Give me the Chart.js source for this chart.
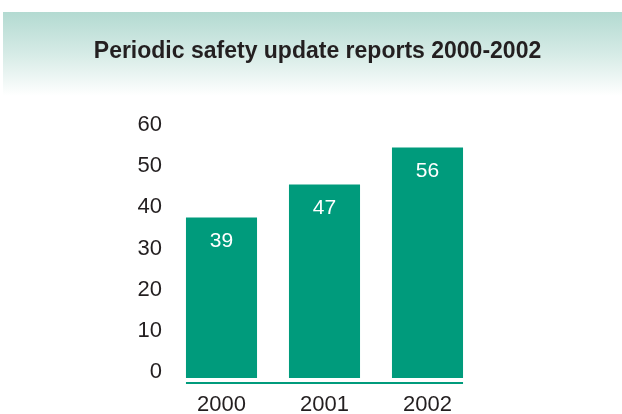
<!DOCTYPE html>
<html>
<head>
<meta charset="utf-8">
<script src="https://cdn.jsdelivr.net/npm/chart.js@4.4.0/dist/chart.umd.min.js"></script>
<style>
  html, body { margin: 0; padding: 0; background: #fff; }
  #wrap { width: 622px; height: 414px; }
</style>
</head>
<body>
<div id="wrap"><canvas id="bars" width="622" height="414"></canvas></div>
<script>
var years = ["2000", "2001", "2002"];
var reports = [39, 47, 56];
var yTicks = [0, 10, 20, 30, 40, 50, 60];
var title = "Periodic safety update reports 2000-2002";

var green = "#009b7c";
var textColor = "#231f20";
var font = "'Liberation Sans', Arial, Helvetica, sans-serif";

// teal header band with the title on it
var headerBand = {
    id: "headerBand",
    beforeDraw: function(chart) {
        var c = chart.ctx;
        var g = c.createLinearGradient(0, 12, 0, 96);
        g.addColorStop(0, "#b3dad1");
        g.addColorStop(0.5, "#d6ebe6");
        g.addColorStop(1, "#ffffff");
        c.save();
        c.fillStyle = g;
        c.fillRect(3, 12, chart.width - 3, 84);
        c.fillStyle = textColor;
        c.font = "bold 23px " + font;
        c.textAlign = "center";
        c.textBaseline = "alphabetic";
        c.fillText(title, 317.5, 58);
        c.restore();
    }
};

// baseline under the bars and the value labels inside them
var barExtras = {
    id: "barExtras",
    afterDatasetsDraw: function(chart) {
        var c = chart.ctx;
        var meta = chart.getDatasetMeta(0);
        var first = meta.data[0], last = meta.data[meta.data.length - 1];
        var y0 = chart.scales.y.getPixelForValue(0);
        c.save();
        c.strokeStyle = green;
        c.lineWidth = 2;
        c.beginPath();
        c.moveTo(first.x - first.width / 2, y0 + 5);
        c.lineTo(last.x + last.width / 2, y0 + 5);
        c.stroke();

        c.fillStyle = "#ffffff";
        c.font = "21px " + font;
        c.textAlign = "center";
        c.textBaseline = "middle";
        meta.data.forEach(function(bar, i) {
            c.fillText(String(reports[i]), bar.x, bar.y + 24);
        });
        c.restore();
    }
};

new Chart(document.getElementById("bars"), {
    type: "bar",
    data: {
        labels: years,
        datasets: [{
            data: reports,
            backgroundColor: green,
            borderWidth: 0,
            barPercentage: 0.69,
            categoryPercentage: 1
        }]
    },
    options: {
        responsive: false,
        animation: false,
        layout: { padding: { left: 0, right: 143, top: 131, bottom: 0 } },
        plugins: {
            legend: { display: false },
            tooltip: { enabled: false },
            title: { display: false }
        },
        scales: {
            x: {
                grid: { display: false, drawTicks: false },
                border: { display: false },
                ticks: { color: textColor, font: { family: font, size: 22 }, padding: 14 },
                afterFit: function(s) { s.height = 36; }
            },
            y: {
                min: 0,
                max: 60,
                grid: { display: false, drawTicks: false },
                border: { display: false },
                afterBuildTicks: function(s) { s.ticks = yTicks.map(function(v) { return { value: v }; }); },
                ticks: { color: textColor, font: { family: font, size: 22 }, padding: 8, labelOffset: -6 },
                afterFit: function(s) { s.width = 170; }
            }
        }
    },
    plugins: [headerBand, barExtras]
});
</script>
</body>
</html>
